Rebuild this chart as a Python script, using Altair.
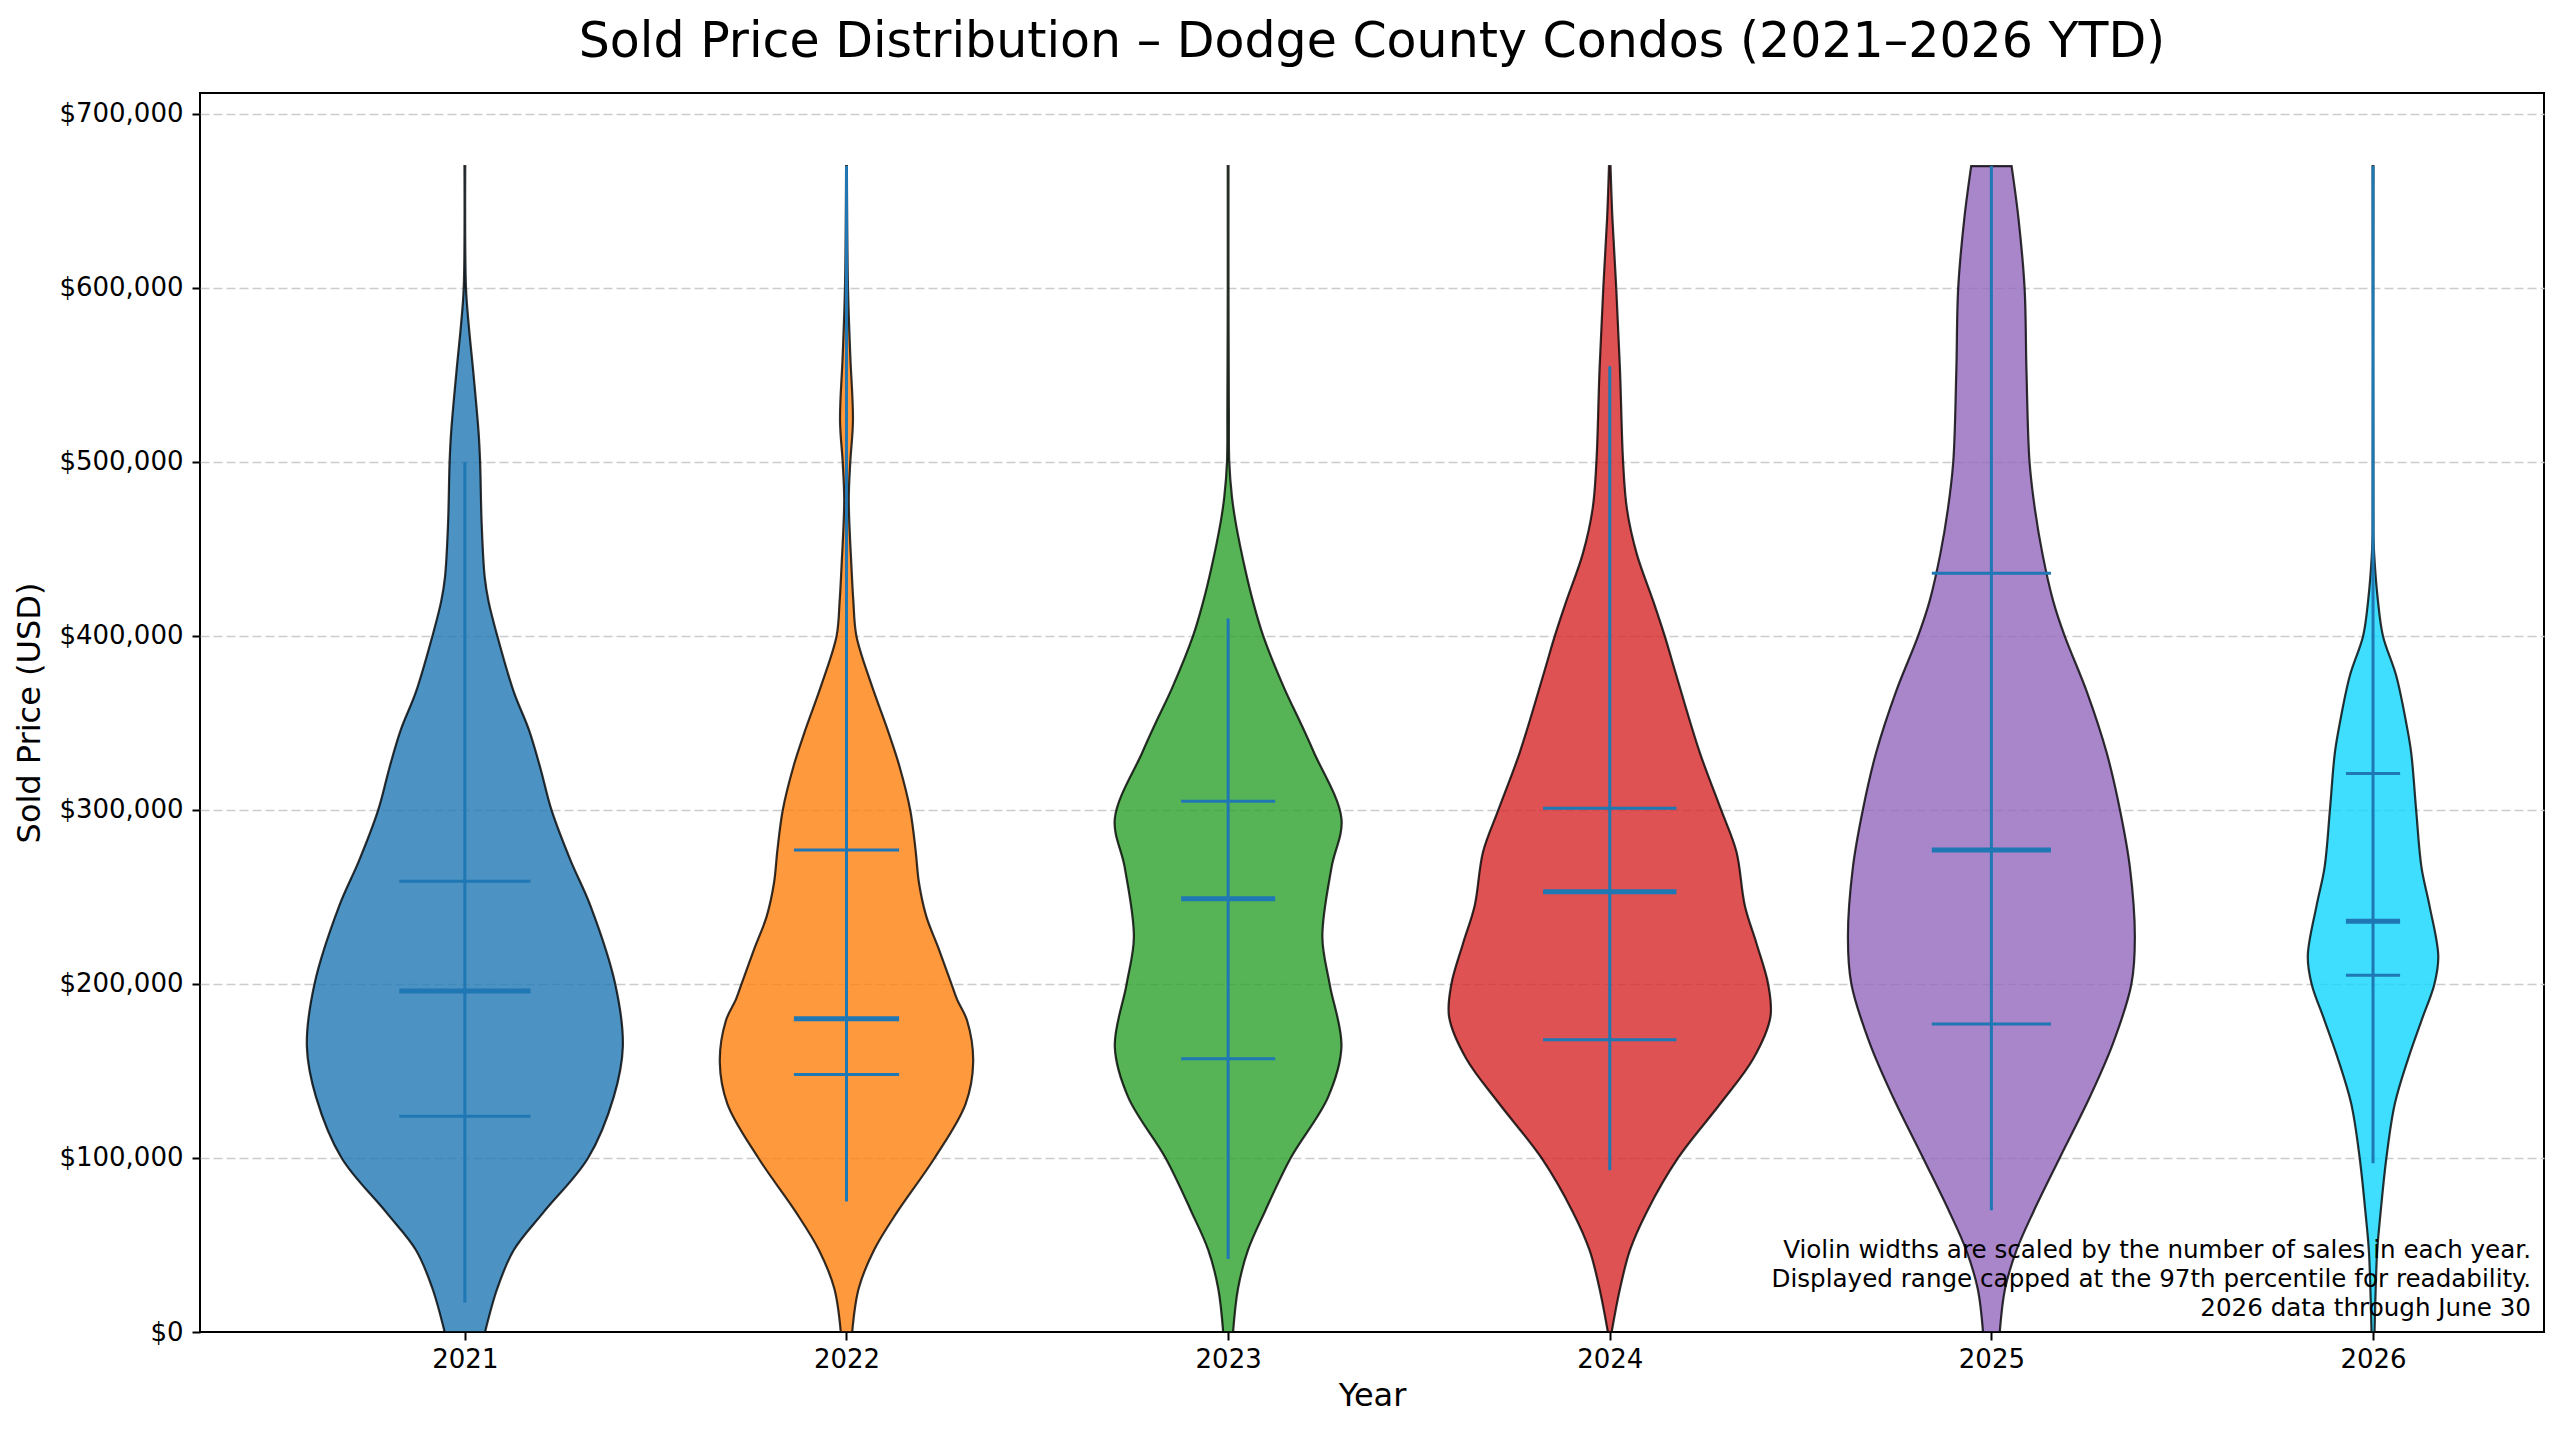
import altair as alt
import pandas as pd

# ---------------- data ----------------
years = ["2021", "2022", "2023", "2024", "2025", "2026"]
colors = ["#1f77b4", "#ff7f0e", "#2ca02c", "#d62728", "#9467bd", "#0fd6ff"]

# violin outlines: price (thousand USD) and half-width (in year-slot units)
price_2021 = [0, 25, 47, 69, 100, 135, 164, 200, 245, 271, 300, 324, 346, 368, 400, 420, 434, 465, 500, 517, 552, 579, 600, 670]
width_2021 = [.053, .085, .128, .207, .323, .390, .414, .394, .329, .277, .227, .198, .168, .128, .085, .062, .052, .044, .040, .036, .022, .010, .003, .001]

price_2022 = [0, 25, 47, 69, 100, 131, 155, 179, 191, 200, 220, 239, 258, 277, 300, 325, 344, 373, 400, 420, 440, 478, 500, 524, 561, 600, 670]
width_2022 = [.015, .032, .072, .133, .231, .312, .332, .316, .290, .275, .242, .209, .190, .181, .167, .139, .111, .064, .026, .018, .013, .006, .010, .017, .010, .004, .001]

price_2023 = [0, 25, 47, 69, 100, 135, 164, 200, 227, 267, 295, 333, 350, 370, 400, 420, 438, 465, 480, 500, 530, 600, 670]
width_2023 = [.013, .026, .052, .096, .164, .262, .297, .266, .247, .271, .297, .225, .190, .147, .092, .065, .045, .020, .010, .003, .002, .001, .001]

price_2024 = [0, 25, 47, 69, 100, 131, 157, 181, 200, 223, 245, 276, 300, 333, 377, 400, 420, 447, 473, 500, 552, 600, 640, 670]
width_2024 = [.005, .027, .053, .097, .179, .289, .376, .421, .415, .385, .354, .332, .292, .236, .175, .144, .114, .071, .045, .035, .027, .017, .007, .002]

price_2025 = [0, 25, 47, 69, 100, 135, 166, 200, 227, 267, 300, 333, 368, 400, 420, 447, 473, 500, 552, 600, 640, 670]
width_2025 = [.022, .036, .066, .110, .179, .258, .319, .367, .376, .363, .337, .302, .250, .192, .162, .134, .114, .100, .092, .087, .071, .053]

price_2026 = [0, 25, 47, 69, 100, 131, 157, 179, 200, 216, 245, 267, 300, 333, 350, 377, 400, 420, 447, 460, 670]
width_2026 = [.004, .007, .011, .020, .035, .057, .092, .127, .161, .171, .148, .127, .113, .100, .087, .061, .026, .013, .003, .001, .001]

# summary statistics (thousand USD)
mins = [17, 75, 42, 93, 70, 97]
q1s = [124, 148, 157, 168, 177, 205]
medians = [196, 180, 249, 253, 277, 236]
q3s = [259, 277, 305, 301, 436, 321]
maxs = [500, 670, 410, 555, 670, 670]

y_ticks = [0, 100000, 200000, 300000, 400000, 500000, 600000, 700000]

title_text = "Sold Price Distribution \u2013 Dodge County Condos (2021\u20132026 YTD)"
note_lines = [
    "Violin widths are scaled by the number of sales in each year.",
    "Displayed range capped at the 97th percentile for readability.",
    "2026 data through June 30",
]

# ---------------- tables ----------------
prices = [price_2021, price_2022, price_2023, price_2024, price_2025, price_2026]
widths = [width_2021, width_2022, width_2023, width_2024, width_2025, width_2026]

rows = []
for i, yr in enumerate(years):
    for p, w in zip(prices[i], widths[i]):
        rows.append({"year": yr, "pos": i + 1, "price": p * 1000, "hw": w, "color": colors[i]})
violin_df = pd.DataFrame(rows).sort_values(["year", "price"])

stats_df = pd.DataFrame({
    "year": years,
    "pos": [i + 1 for i in range(len(years))],
    "min": [v * 1000 for v in mins],
    "q1": [v * 1000 for v in q1s],
    "med": [v * 1000 for v in medians],
    "q3": [v * 1000 for v in q3s],
    "max": [v * 1000 for v in maxs],
    "lh": [0.415 * max(w) for w in widths],
})

W, H = 2344, 1239
FONT = "DejaVu Sans"
LINE = "#1f77b4"

xscale = alt.Scale(domain=[0.306, 6.448], nice=False, zero=False)
yscale = alt.Scale(domain=[0, 712000], nice=False, zero=False)

label_expr = "[" + ",".join("'%s'" % y for y in years) + "][datum.value - 1]"
x_axis = alt.Axis(values=list(range(1, len(years) + 1)), labelExpr=label_expr, title="Year",
                  grid=False, labelPadding=6, titlePadding=8)
y_axis = alt.Axis(values=y_ticks, format="$,.0f", title="Sold Price (USD)", grid=True,
                  gridOpacity={"condition": {"test": "datum.value === 0", "value": 0}, "value": 1},
                  labelPadding=9, titlePadding=12)


def X(field):
    return alt.X(field, type="quantitative", scale=xscale, axis=x_axis)


def Y(field):
    return alt.Y(field, type="quantitative", scale=yscale, axis=y_axis)


violins = alt.Chart(violin_df).transform_calculate(
    lo="datum.pos - datum.hw", hi="datum.pos + datum.hw"
).mark_area(
    orient="horizontal", interpolate="catmull-rom", fillOpacity=0.8,
    stroke="black", strokeOpacity=0.8, strokeWidth=2.2
).encode(
    y=Y("price"),
    x=X("lo"),
    x2="hi:Q",
    fill=alt.Fill("color:N", scale=None),
    detail="year:N",
)

vlines = alt.Chart(stats_df).mark_rule(color=LINE, strokeWidth=3).encode(
    x=X("pos"), y=Y("min"), y2="max:Q"
)

quart = alt.Chart(stats_df).transform_fold(["q1", "q3"], as_=["stat", "value"]).transform_calculate(
    lo="datum.pos - datum.lh", hi="datum.pos + datum.lh"
).mark_rule(color=LINE, strokeWidth=3).encode(
    x=X("lo"), x2="hi:Q", y=Y("value")
)

med = alt.Chart(stats_df).transform_calculate(
    lo="datum.pos - datum.lh", hi="datum.pos + datum.lh"
).mark_rule(color=LINE, strokeWidth=5).encode(
    x=X("lo"), x2="hi:Q", y=Y("med")
)

note = alt.Chart(alt.Data(values=[{}])).mark_text(
    align="right", baseline="alphabetic", fontSize=24.6, lineHeight=29, font=FONT, color="black"
).encode(
    x=alt.value(W - 13), y=alt.value(H - 74), text=alt.value(note_lines)
)

chart = alt.layer(violins, vlines, quart, med, note).properties(
    width=W, height=H,
    title=alt.TitleParams(title_text, fontSize=49, font=FONT, fontWeight="normal",
                          color="black", anchor="middle", offset=26),
    autosize=alt.AutoSizeParams(type="none"),
    padding={"left": 192, "top": 85, "right": 8, "bottom": 85},
    background="white",
).configure_axis(
    labelFont=FONT, titleFont=FONT, labelFontSize=26, titleFontSize=32,
    titleFontWeight="normal", labelColor="black", titleColor="black",
    tickColor="black", tickWidth=2, tickSize=8, domain=False,
    gridColor="#cccccc", gridDash=[9, 4], gridWidth=1.5,
).configure_view(
    stroke="black", strokeWidth=2
)

chart.save("out.html", embed_options={"renderer": "svg", "actions": False})
